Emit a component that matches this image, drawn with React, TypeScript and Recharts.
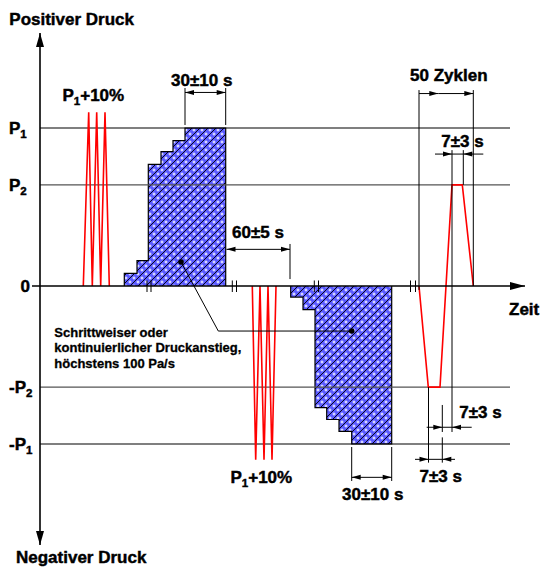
import { ComposedChart, XAxis, YAxis, Line, Area, ReferenceLine, ReferenceDot } from 'recharts'

// Zeit in willkuerlichen Einheiten, Druck in % von P1
const FONT = '"Liberation Sans", Arial, Helvetica, sans-serif'

const pressureTicks = [100, 64, 0, -64, -100]
const pressureTickNames = ['P_1', 'P_2', '0', '-P_2', '-P_1']
const levelLines = [100, 64, -64, -100]
const levelColors = ['#000', '#555', '#555', '#000']

// Pruefstoesse P1 + 10 %
const posPulseTime = [43.3, 48.7, 52.3, 56.7, 60.7, 65, 69.3]
const posPulseP = [0, 110, 0, 110, 0, 110, 0]
const negPulseTime = [212.3, 215.7, 220, 224, 228, 232, 236]
const negPulseP = [0, -110, 0, -110, 0, -110, 0]

// schrittweiser Druckanstieg
const posStepTime = [84.3, 84.3, 97, 108.3, 121, 133, 145, 185.7, 185.7]
const posStepP = [0, 8, 16, 77, 85, 92, 100, 100, 0]
const negStepTime = [250.7, 250.7, 263, 275, 286.7, 299, 311.7, 351.7, 351.7]
const negStepP = [0, -7, -15, -77, -84.5, -92, -100, -100, 0]

// Wechsellast (50 Zyklen)
const cycleTime = [379, 388.3, 400, 412, 422.3, 433.3]
const cycleP = [0, -64, -64, 64, 64, 0]

// Unterbrechungen der Zeitachse (Paare)
const breakTime = [107, 111, 192.3, 196.5, 274.3, 278.5, 370.5, 375.5]

// Hinweislinie
const leaderTime = [141, 178.3, 311.7]
const leaderP = [15.2, -28.5, -28.5]

// Masslinien: [t1, p1, t2, p2, Pfeil]
const dimLines: [number, number, number, number, string][] = [
  [145, 101.9, 145, 125.3, 'none'],
  [185.7, 101.9, 185.7, 125.3, 'none'],
  [145, 122.5, 185.7, 122.5, 'both'],
  [186.5, 23.2, 250, 23.2, 'both'],
  [250, 4.4, 250, 26.6, 'none'],
  [379, 124, 379, -2.5, 'none'],
  [433.3, 124, 433.3, 0, 'none'],
  [379, 121.8, 398.3, 121.8, 'end'],
  [398.3, 121.8, 433.3, 121.8, 'end'],
  [395, 83.5, 412, 83.5, 'end'],
  [412, 83.5, 423.3, 83.5, 'none'],
  [443.3, 83.5, 423.3, 83.5, 'end'],
  [412, 86, 412, -92.4, 'none'],
  [423.3, 86, 423.3, 64, 'none'],
  [386.7, -89.4, 402.3, -89.4, 'end'],
  [402.3, -89.4, 412, -89.4, 'none'],
  [431.7, -89.4, 412, -89.4, 'end'],
  [402.3, -75.3, 402.3, -92.4, 'none'],
  [375, -109.7, 388.5, -109.7, 'end'],
  [388.5, -109.7, 402.3, -109.7, 'none'],
  [415, -109.7, 402.3, -109.7, 'end'],
  [388.5, -64, 388.5, -111.8, 'none'],
  [402.3, -95.8, 402.3, -111.8, 'none'],
  [311.7, -101.9, 311.7, -123.4, 'none'],
  [351.7, -101.9, 351.7, -123.4, 'none'],
  [311.7, -121.1, 351.7, -121.1, 'both'],
]

// Beschriftungen: [t, p, Text, Ausrichtung]
const bigLabels: [number, number, string, string][] = [
  [-30.7, 165.5, 'Positiver Druck', 'start'],
  [-24, -175.3, 'Negativer Druck', 'start'],
  [469, -18.4, 'Zeit', 'start'],
  [53.3, 116.8, 'P_1+10%', 'middle'],
  [221.3, -124.7, 'P_1+10%', 'middle'],
  [161.7, 126.6, '30±10 s', 'middle'],
  [218, 30.4, '60±5 s', 'middle'],
  [408.8, 129.7, '50 Zyklen', 'middle'],
  [422.5, 87.8, '7±3 s', 'middle'],
  [440.5, -83.7, '7±3 s', 'middle'],
  [400.8, -123.9, '7±3 s', 'middle'],
  [332.7, -135.4, '30±10 s', 'middle'],
]
const noteLines = ['Schrittweiser oder', 'kontinuierlicher Druckanstieg,', 'höchstens 100 Pa/s']
const noteTime = 14.3
const noteP = [-32.1, -42, -51.9]

const zip = (ts: number[], ps: number[]) => ts.map((t, i) => ({ t, p: ps[i] }))

function rich(text: string, size: number) {
  const parts = text.split('_')
  return parts.map((part, i) => {
    if (i === 0) return <tspan key={i}>{part}</tspan>
    return [
      <tspan key={i + 'a'} dy={4} fontSize={size * 0.68}>{part[0]}</tspan>,
      <tspan key={i + 'b'} dy={-4} fontSize={size}>{part.slice(1)}</tspan>,
    ]
  })
}

const arrowShape = (head: string, color = '#000', width = 1, len = 9, half = 2.5) => (props: any) => {
  const { x1, y1, x2, y2 } = props
  const dx = x2 - x1
  const dy = y2 - y1
  const d = Math.hypot(dx, dy) || 1
  const ux = dx / d
  const uy = dy / d
  const tri = (tx: number, ty: number, vx: number, vy: number) =>
    `${tx},${ty} ${tx - vx * len - vy * half},${ty - vy * len + vx * half} ${tx - vx * len + vy * half},${ty - vy * len - vx * half}`
  return (
    <g>
      <line x1={x1} y1={y1} x2={x2} y2={y2} stroke={color} strokeWidth={width} />
      {head !== 'none' && <polygon points={tri(x2, y2, ux, uy)} fill={color} />}
      {head === 'both' && <polygon points={tri(x1, y1, -ux, -uy)} fill={color} />}
    </g>
  )
}

const textShape = (text: string, anchor: string, size: number, weight = 0.45) => (props: any) => (
  <text
    x={props.cx}
    y={props.cy}
    textAnchor={anchor}
    fontSize={size}
    fontWeight="bold"
    fontFamily={FONT}
    fill="#000"
    stroke="#000"
    strokeWidth={weight}
  >
    {rich(text, size)}
  </text>
)

const renderPressureTick = (props: any) => {
  const { x, y, payload } = props
  const name = pressureTickNames[pressureTicks.indexOf(payload.value)] || ''
  const isZero = name === '0'
  return (
    <text
      x={isZero ? x : x - 21}
      y={y}
      dy={6}
      textAnchor={isZero ? 'end' : 'start'}
      fontSize={17}
      fontWeight="bold"
      fontFamily={FONT}
      fill="#000"
      stroke="#000"
      strokeWidth={0.45}
    >
      {rich(name, 17)}
    </text>
  )
}

export default function App() {
  return (
    <div style={{ position: 'absolute', left: 0, top: 0, background: '#fff' }}>
      <svg width={0} height={0} style={{ position: 'absolute' }}>
        <defs>
          <pattern id="hatch" width={8} height={8} patternUnits="userSpaceOnUse">
            <rect width={8} height={8} fill="#5a5aff" />
            <path d="M0.5 2h3M2 0.5v3M4.5 6h3M6 4.5v3" stroke="#fff" strokeWidth={1} />
            <path d="M0 8L8 0M-1 1L1 -1M7 9L9 7" stroke="#000" strokeWidth={0.9} />
          </pattern>
        </defs>
      </svg>
      <ComposedChart width={540} height={569} margin={{ top: 0, right: 0, bottom: 0, left: 0 }}>
        <XAxis type="number" dataKey="t" domain={[0, 500]} allowDataOverflow hide />
        <YAxis
          type="number"
          domain={[-179.11, 181.01]}
          allowDataOverflow
          ticks={pressureTicks}
          interval={0}
          width={40}
          axisLine={false}
          tickLine={false}
          tickSize={8}
          tick={renderPressureTick}
        />

        {levelLines.map((lv, i) => (
          <ReferenceLine
            key={'lv' + lv}
            segment={[{ x: 0, y: lv }, { x: 470, y: lv }]}
            ifOverflow="visible"
            shape={arrowShape('none', levelColors[i], 1.1)}
          />
        ))}

        <Area data={zip(posStepTime, posStepP)} dataKey="p" type="stepAfter" baseValue={0} stroke="#000" strokeWidth={1.2} fill="url(#hatch)" fillOpacity={1} isAnimationActive={false} />
        <Area data={zip(negStepTime, negStepP)} dataKey="p" type="stepAfter" baseValue={0} stroke="#000" strokeWidth={1.2} fill="url(#hatch)" fillOpacity={1} isAnimationActive={false} />

        <Line data={zip(posPulseTime, posPulseP)} dataKey="p" type="linear" stroke="#ff0000" strokeWidth={1.6} dot={false} isAnimationActive={false} />
        <Line data={zip(negPulseTime, negPulseP)} dataKey="p" type="linear" stroke="#ff0000" strokeWidth={1.6} dot={false} isAnimationActive={false} />
        <Line data={zip(cycleTime, cycleP)} dataKey="p" type="linear" stroke="#ff0000" strokeWidth={1.6} dot={false} isAnimationActive={false} />
        <Line data={zip(leaderTime, leaderP)} dataKey="p" type="linear" stroke="#000" strokeWidth={1} dot={false} isAnimationActive={false} />

        {/* Achsen */}
        <ReferenceLine segment={[{ x: 0, y: -163.9 }, { x: 0, y: 160.1 }]} ifOverflow="visible" shape={arrowShape('both', '#000', 1.6, 14, 4)} />
        <ReferenceLine segment={[{ x: -8, y: 0 }, { x: 485, y: 0 }]} ifOverflow="visible" shape={arrowShape('end', '#000', 1.6, 15, 4)} />

        {breakTime.map((bt) => (
          <ReferenceLine key={'br' + bt} segment={[{ x: bt, y: 3.5 }, { x: bt, y: -3.8 }]} ifOverflow="visible" shape={arrowShape('none', '#000', 1)} />
        ))}

        {dimLines.map(([t1, p1, t2, p2, head], i) => (
          <ReferenceLine key={'dim' + i} segment={[{ x: t1, y: p1 }, { x: t2, y: p2 }]} ifOverflow="visible" shape={arrowShape(head, '#000', 1, 9, 2.5)} />
        ))}

        <ReferenceDot x={leaderTime[0]} y={leaderP[0]} r={2.8} fill="#000" stroke="none" ifOverflow="visible" />
        <ReferenceDot x={leaderTime[2]} y={leaderP[2]} r={2.8} fill="#000" stroke="none" ifOverflow="visible" />

        {bigLabels.map(([t, p, text, anchor], i) => (
          <ReferenceDot key={'lb' + i} x={t} y={p} r={0} ifOverflow="visible" shape={textShape(text, anchor, 17)} />
        ))}
        {noteLines.map((line, i) => (
          <ReferenceDot key={'nt' + i} x={noteTime} y={noteP[i]} r={0} ifOverflow="visible" shape={textShape(line, 'start', 13, 0.3)} />
        ))}
      </ComposedChart>
    </div>
  )
}
